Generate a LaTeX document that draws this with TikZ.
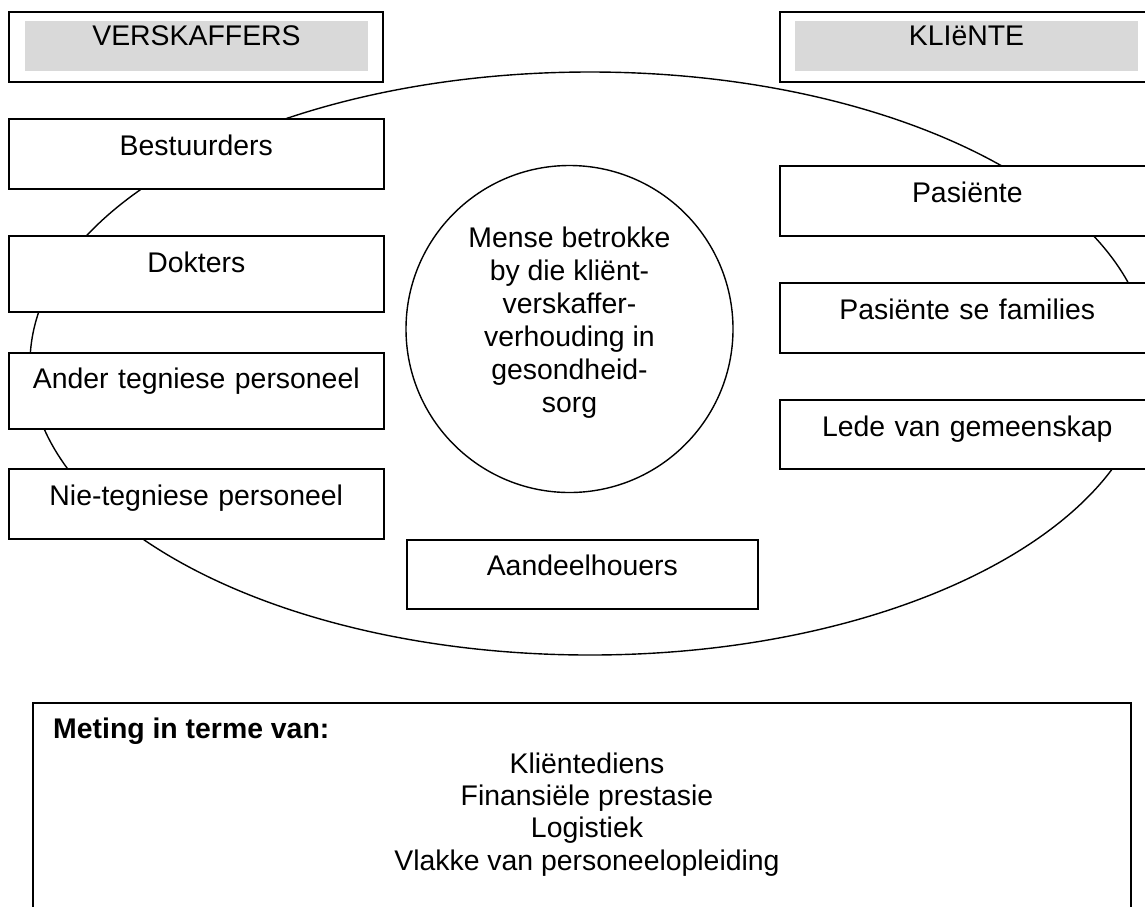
\documentclass[tikz,border=0pt]{standalone}
\usepackage{fontspec}
\setmainfont{Liberation Sans}
\usetikzlibrary{shapes.geometric}
\definecolor{hdrgray}{HTML}{D9D9D9}
\newcommand\myfs{\fontsize{28.4}{33}\selectfont}
\tikzset{
  box/.style={draw, line width=1.6pt, fill=white, inner xsep=0pt, inner ysep=0pt,
    align=center, anchor=north west, font=\myfs, text width=#1},
  box/.default=375pt,
  hdr/.style={draw, line width=2.2pt, fill=white, anchor=north west, inner sep=0pt},
  hdrfill/.style={fill=hdrgray, anchor=north west, inner sep=0pt},
  hdrtext/.style={anchor=base, font=\myfs, inner sep=0pt},
  txt/.style={anchor=base, font=\myfs, inner sep=0pt},
}
\begin{document}
\begin{tikzpicture}[x=1pt,y=-1pt]
\useasboundingbox (0,0) rectangle (1145,906);
% big ellipse
\node[ellipse, draw, line width=1.4pt, minimum width=1120pt, minimum height=583pt, inner sep=0pt] (ring) at (590,363.5) {};
% central circle
\node[circle, draw, line width=1.4pt, fill=white, minimum size=327pt, inner sep=0pt] (core) at (569.5,329) {};
\node[anchor=north, font=\myfs, align=center, inner sep=0pt] (coretext) at (569.5,223.9)
  {\strut Mense betrokke\\by die kliënt-\\verskaffer-\\verhouding in\\gesondheid-\\sorg};
% header boxes
\node[hdr, minimum width=374pt, minimum height=70pt] (provhdr) at (8,11) {};
\node[hdrfill, minimum width=343pt, minimum height=50pt] (provfill) at (25,21) {};
\node[hdrtext] (provlbl) at (196.5,45) {VERSKAFFERS};
\node[hdr, minimum width=368pt, minimum height=70pt] (clienthdr) at (779,11) {};
\node[hdrfill, minimum width=343pt, minimum height=50pt] (clientfill) at (795,21) {};
\node[hdrtext] (clientlbl) at (966.5,45) {KLIëNTE};
% provider boxes
\node[box, text height=37pt, text depth=33pt] (bestuur) at (8,118) {Bestuurders};
\node[box, text height=37pt, text depth=39pt] (dokters) at (8,235) {Dokters};
\node[box, text height=36pt, text depth=40pt] (ander) at (8,352) {Ander tegniese personeel};
\node[box, text height=37pt, text depth=33pt] (nie) at (8,468) {Nie-tegniese personeel};
% client boxes
\node[box, text height=37pt, text depth=33pt] (pas) at (779,165) {Pasiënte};
\node[box, text height=37pt, text depth=33pt] (fam) at (779,282) {Pasiënte se families};
\node[box, text height=37pt, text depth=32pt] (lede) at (779,399) {Lede van gemeenskap};
% shareholders
\node[box=351pt, text height=36pt, text depth=33pt] (aandeel) at (406,539) {Aandeelhouers};
% measurement box
\node[draw, line width=1.6pt, anchor=north west, minimum width=1098pt, minimum height=230pt, inner sep=0pt] (meting) at (32,702) {};
\node[txt, anchor=base west] (metinghd) at (53,738) {\bfseries Meting in terme van:};
\node[txt] (m1) at (587,773) {Kliëntediens};
\node[txt] (m2) at (587,805) {Finansiële prestasie};
\node[txt] (m3) at (587,837) {Logistiek};
\node[txt] (m4) at (587,870) {Vlakke van personeelopleiding};
\end{tikzpicture}
\end{document}
